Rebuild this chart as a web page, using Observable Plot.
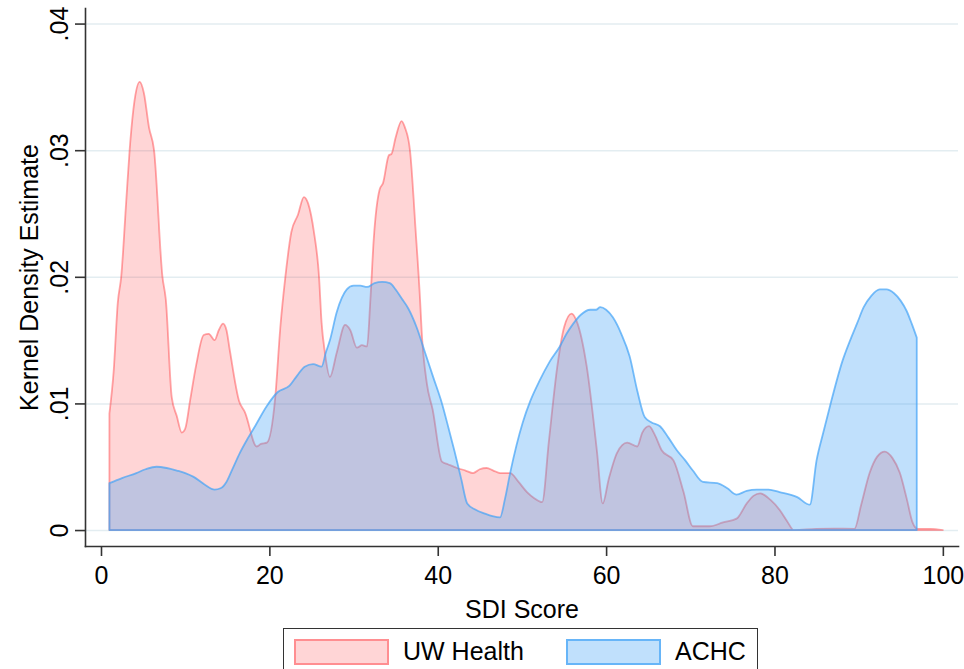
<!DOCTYPE html>
<html>
<head>
<meta charset="utf-8">
<script src="https://cdn.jsdelivr.net/npm/d3@7"></script>
<script src="https://cdn.jsdelivr.net/npm/@observablehq/plot@0.6"></script>
<style>
  html, body { margin: 0; padding: 0; background: #fff; }
  #wrap { position: relative; width: 964px; height: 669px; overflow: hidden; background: #fff; font-family: "Liberation Sans", Arial, sans-serif; }
  #legend { position: absolute; left: 283px; top: 628px; width: 475px; height: 60px; border: 1.5px solid #333; box-sizing: border-box; }
  .sw { position: absolute; top: 10px; width: 91px; height: 22px; border: 2px solid; }
  .lb { position: absolute; top: 7px; font-size: 25px; line-height: 30px; color: #000; white-space: nowrap; }
</style>
</head>
<body>
<div id="wrap">
  <div id="chart"></div>
  <div id="legend">
    <div class="sw" id="sw1" style="left:10px;"></div>
    <div class="lb" id="lb1" style="left:119px;"></div>
    <div class="sw" id="sw2" style="left:282px;"></div>
    <div class="lb" id="lb2" style="left:391px;"></div>
  </div>
</div>
<script>
// ---- data ----
const seriesNames = ["UW Health", "ACHC"];

const uwScore = [1.0, 1.5, 2.0, 2.4, 3.0, 3.4, 4.0, 4.6, 5.1, 5.7, 6.3, 7.3, 7.7, 8.4, 9.0, 9.6, 10.0, 10.6, 11.3, 12.2, 12.8, 13.5, 14.0, 14.5, 14.9, 15.3, 16.4, 17.1, 18.5, 19.0, 19.7, 20.7, 21.3, 21.9, 22.6, 23.4, 24.1, 24.6, 25.3, 25.9, 26.2, 26.6, 27.2, 28.0, 29.0, 29.6, 30.4, 31.0, 31.6, 32.0, 32.4, 33.1, 33.5, 34.2, 34.5, 35.0, 35.7, 36.1, 36.7, 37.4, 37.9, 38.1, 38.7, 39.4, 40.5, 41.2, 42.3, 43.3, 44.2, 45.0, 45.8, 46.6, 47.4, 48.6, 49.6, 50.6, 51.5, 52.4, 53.2, 54.2, 55.0, 55.9, 56.5, 57.7, 58.9, 59.6, 60.3, 61.3, 62.5, 63.7, 64.3, 65.1, 65.8, 66.6, 68.0, 69.2, 70.3, 72.3, 73.9, 75.5, 76.7, 77.5, 78.3, 79.5, 80.6, 81.5, 82.3, 85.0, 87.0, 89.5, 90.3, 91.3, 92.2, 93.1, 94.0, 94.9, 95.7, 96.4, 97.0, 98.5, 100.0];
const uwDensity = [0.0092, 0.0125, 0.0180, 0.0200, 0.0260, 0.0300, 0.0340, 0.0354, 0.0345, 0.0318, 0.0300, 0.0200, 0.0182, 0.0105, 0.0090, 0.0077, 0.0080, 0.0103, 0.0130, 0.0154, 0.0155, 0.0150, 0.0158, 0.0163, 0.0158, 0.0142, 0.0102, 0.0093, 0.0066, 0.0068, 0.0069, 0.0105, 0.0160, 0.0200, 0.0235, 0.0249, 0.0263, 0.0258, 0.0235, 0.0200, 0.0164, 0.0140, 0.0121, 0.0140, 0.0162, 0.0158, 0.0144, 0.0146, 0.0145, 0.0182, 0.0230, 0.0269, 0.0274, 0.0296, 0.0297, 0.0310, 0.0323, 0.0318, 0.0300, 0.0234, 0.0182, 0.0156, 0.0116, 0.0095, 0.0054, 0.0052, 0.0049, 0.0047, 0.0045, 0.0048, 0.0049, 0.0047, 0.0045, 0.0045, 0.0038, 0.0030, 0.0025, 0.0022, 0.0070, 0.0129, 0.0160, 0.0171, 0.0165, 0.0129, 0.0063, 0.0021, 0.0040, 0.0061, 0.0069, 0.0066, 0.0077, 0.0082, 0.0075, 0.0063, 0.0055, 0.0030, 0.0003, 0.0003, 0.0006, 0.0009, 0.0021, 0.0027, 0.0029, 0.0024, 0.0016, 0.0007, 0.0000, 0.0001, 0.00012, 0.0001, 0.0020, 0.0045, 0.0058, 0.0062, 0.0057, 0.0045, 0.0025, 0.0006, 0.0001, 0.0001, 0.0000];

const achcScore = [1.0, 2.5, 4.2, 5.3, 6.6, 7.8, 9.0, 10.0, 11.0, 12.3, 13.5, 14.2, 14.9, 15.6, 16.5, 17.4, 18.3, 19.7, 21.0, 22.4, 23.3, 24.2, 25.2, 26.2, 26.7, 27.2, 28.0, 29.2, 30.0, 30.8, 31.6, 32.5, 33.4, 34.3, 35.0, 35.7, 36.5, 37.5, 38.5, 39.5, 40.5, 41.3, 42.0, 42.8, 43.5, 44.5, 45.6, 46.5, 47.4, 48.0, 48.6, 50.1, 51.0, 52.1, 53.3, 54.5, 55.3, 56.1, 57.0, 58.1, 58.8, 59.3, 60.0, 60.8, 61.8, 62.8, 63.7, 64.6, 65.4, 66.4, 67.4, 68.4, 69.4, 70.3, 71.5, 73.2, 74.4, 75.5, 76.7, 77.9, 79.3, 80.6, 82.7, 84.2, 85.0, 85.8, 86.6, 88.1, 89.0, 89.8, 90.6, 91.5, 92.5, 93.3, 94.2, 95.0, 95.7, 96.3, 96.9];
const achcDensity = [0.0037, 0.0041, 0.0045, 0.0048, 0.0050, 0.0049, 0.0047, 0.0045, 0.0042, 0.0036, 0.0032, 0.0033, 0.0038, 0.0048, 0.0061, 0.0072, 0.0082, 0.0098, 0.0109, 0.0114, 0.0122, 0.0129, 0.0131, 0.0129, 0.0140, 0.0150, 0.0172, 0.0190, 0.0193, 0.0193, 0.0192, 0.0195, 0.0196, 0.0195, 0.0190, 0.0183, 0.0175, 0.0160, 0.0140, 0.0120, 0.0100, 0.0080, 0.0062, 0.0040, 0.0021, 0.0016, 0.0013, 0.0011, 0.0010, 0.0025, 0.0045, 0.0085, 0.0102, 0.0118, 0.0133, 0.0145, 0.0155, 0.0163, 0.0170, 0.0174, 0.0174, 0.0176, 0.0174, 0.0168, 0.0155, 0.0137, 0.0110, 0.0089, 0.0085, 0.0082, 0.0073, 0.0063, 0.0055, 0.0047, 0.0038, 0.0037, 0.0033, 0.0028, 0.0031, 0.0032, 0.0032, 0.0030, 0.0026, 0.0020, 0.0055, 0.0077, 0.0098, 0.0134, 0.0150, 0.0163, 0.0176, 0.0185, 0.0190, 0.0190, 0.0187, 0.0181, 0.0173, 0.0163, 0.0152];

const xTicks = [0, 20, 40, 60, 80, 100];
const yTicks = [0, 0.01, 0.02, 0.03, 0.04];
const xLabel = "SDI Score";
const yLabel = "Kernel Density Estimate";

// ---- build tables ----
const uwData = uwScore.map((s, i) => ({score: s, density: uwDensity[i]}));
const achcData = achcScore.map((s, i) => ({score: s, density: achcDensity[i]}));

const RED = "rgb(255,45,50)";
const BLUE = "rgb(66,162,246)";
const fmtY = d => d === 0 ? "0" : d3.format(".2f")(d).replace(/^0/, "");

const chart = Plot.plot({
  width: 964,
  height: 620,
  marginLeft: 85,
  marginRight: 6,
  marginTop: 8,
  marginBottom: 74,
  x: {domain: [-1.9, 101.8]},
  y: {domain: [-0.00126, 0.04123]},
  style: {fontFamily: "'Liberation Sans', Arial, sans-serif", fontSize: "25px", color: "#000", background: "#fff", overflow: "visible"},
  marks: [
    Plot.gridY(yTicks, {stroke: "#e3edf1", strokeOpacity: 1, strokeWidth: 1.6}),
    Plot.areaY(uwData, {x: "score", y: "density", curve: "monotone-x", fill: RED, fillOpacity: 0.2, stroke: RED, strokeOpacity: 0.42, strokeWidth: 1.8}),
    Plot.areaY(achcData, {x: "score", y: "density", curve: "monotone-x", fill: BLUE, fillOpacity: 0.333, stroke: BLUE, strokeOpacity: 0.7, strokeWidth: 1.8}),
    Plot.frame({anchor: "left", stroke: "#333", strokeWidth: 1.6}),
    Plot.frame({anchor: "bottom", stroke: "#333", strokeWidth: 1.6}),
    Plot.axisY(yTicks, {anchor: "left", tickSize: 10, tickPadding: 8, tickRotate: -90, tickFormat: fmtY,
      stroke: "#333", strokeWidth: 1.6, fill: "#000", fontSize: 25,
      label: yLabel, labelAnchor: "center", labelOffset: 65, labelArrow: "none"}),
    Plot.axisX(xTicks, {anchor: "bottom", tickSize: 10, tickPadding: 10, tickFormat: d => String(d),
      stroke: "#333", strokeWidth: 1.6, fill: "#000", fontSize: 25,
      label: xLabel, labelAnchor: "center", labelOffset: 71, labelArrow: "none"})
  ]
});
document.getElementById("chart").appendChild(chart);

// ---- legend ----
const sw1 = document.getElementById("sw1"), sw2 = document.getElementById("sw2");
sw1.style.background = "rgba(255,45,50,0.2)"; sw1.style.borderColor = "rgba(255,45,50,0.42)";
sw2.style.background = "rgba(66,162,246,0.333)"; sw2.style.borderColor = "rgba(66,162,246,0.7)";
document.getElementById("lb1").textContent = seriesNames[0];
document.getElementById("lb2").textContent = seriesNames[1];
</script>
</body>
</html>
